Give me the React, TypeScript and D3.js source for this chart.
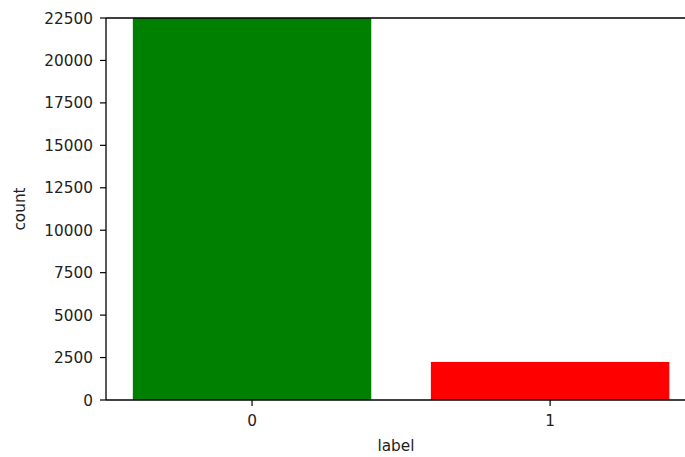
import React from "react";
import * as d3 from "d3";

const categories = ["0", "1"];
const counts = [29720, 2242];
const barColors = ["#008000", "#ff0000"];
const yTicks = [0, 2500, 5000, 7500, 10000, 12500, 15000, 17500, 20000, 22500];

const W = 685;
const H = 457;
const left = 106;
const top = 18;
const bottom = 400;
const right = 686;
const font = "DejaVu Sans, sans-serif";
const fs = 15.3;

export default function App() {
  const x = d3.scaleLinear().domain([-0.49, 1.456]).range([left, right]);
  const y = d3.scaleLinear().domain([0, 22500]).range([bottom, top]);
  const bw = x(0.4) - x(-0.4);
  return (
    <svg width={W} height={H} style={{ position: "absolute", left: 0, top: 0, background: "#fff" }}>
      <defs>
        <clipPath id="plot">
          <rect x={left} y={top} width={right - left} height={bottom - top} />
        </clipPath>
      </defs>
      <g clipPath="url(#plot)">
        {categories.map((c, i) => (
          <rect
            key={c}
            x={x(i) - bw / 2}
            y={y(counts[i])}
            width={bw}
            height={bottom - y(counts[i])}
            fill={barColors[i]}
          />
        ))}
      </g>
      <g stroke="#000" strokeWidth={1.3} fill="none">
        <line x1={left} x2={left} y1={top} y2={bottom} />
        <line x1={left} x2={right} y1={bottom} y2={bottom} />
        <line x1={left} x2={right} y1={top} y2={top} />
        <line x1={right} x2={right} y1={top} y2={bottom} />
      </g>
      {yTicks.map((t) => (
        <g key={t}>
          <line x1={left - 6} x2={left} y1={y(t)} y2={y(t)} stroke="#000" strokeWidth={1.2} />
          <text x={left - 13} y={y(t)} dy="0.36em" textAnchor="end" fontFamily={font} fontSize={fs} fill="#222">
            {t}
          </text>
        </g>
      ))}
      {categories.map((c, i) => (
        <g key={c}>
          <line x1={x(i)} x2={x(i)} y1={bottom} y2={bottom + 6} stroke="#000" strokeWidth={1.2} />
          <text x={x(i)} y={bottom + 26} textAnchor="middle" fontFamily={font} fontSize={fs} fill="#222">
            {c}
          </text>
        </g>
      ))}
      <text x={(left + right) / 2} y={bottom + 51} textAnchor="middle" fontFamily={font} fontSize={fs} fill="#222">
        label
      </text>
      <text
        transform={`translate(25,${(top + bottom) / 2}) rotate(-90)`}
        textAnchor="middle"
        fontFamily={font}
        fontSize={fs}
        fill="#222"
      >
        count
      </text>
    </svg>
  );
}
